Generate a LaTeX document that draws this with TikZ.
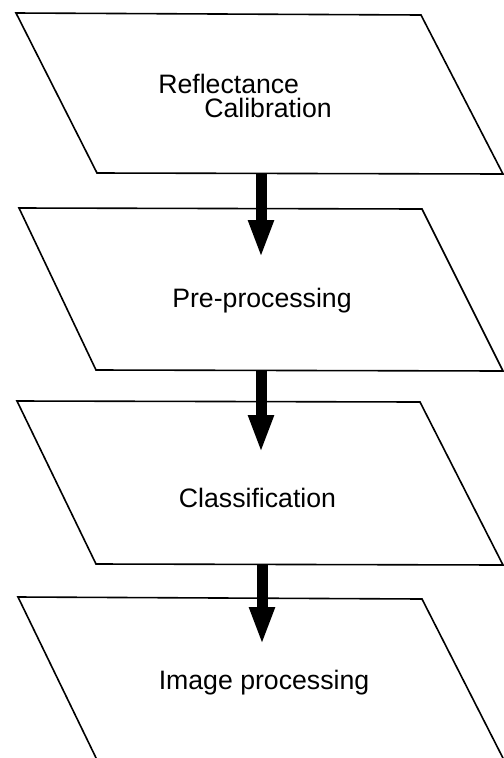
\documentclass[tikz,border=0pt]{standalone}
\usepackage{fontspec}
\setmainfont{Liberation Sans}
\usetikzlibrary{arrows.meta}
\tikzset{
  boxline/.style={draw=black, line width=1.2pt, line join=miter},
  label/.style={inner sep=0pt, font=\fontsize{20}{18}\selectfont},
  bigarrow/.style={draw=black, line width=8.25pt, -{Triangle[width=17.5pt,length=28.5pt]}}
}
\begin{document}
\begin{tikzpicture}[x=0.75pt,y=-0.75pt]
\useasboundingbox (0,0) rectangle (504,758);
\clip (0,0) rectangle (504,758);
% boxes
\draw[boxline] (16,13) -- (421,15) -- (503,174) -- (97,173) -- cycle;
\draw[boxline] (19,208) -- (422,209) -- (503,371) -- (96,370) -- cycle;
\draw[boxline] (17,401) -- (420,402) -- (503,565) -- (96,564) -- cycle;
\draw[boxline] (18,597) -- (422,599) -- (506,764) -- (99,764) -- cycle;
% texts
\node[label, anchor=base west, align=left] (t1) at (158,117) {Reflectance\\\hspace*{34.5pt}Calibration};
\node[label, anchor=base] (t2) at (262,307) {Pre-processing};
\node[label, anchor=base] (t3) at (257.5,507) {Classification};
\node[label, anchor=base] (t4) at (264,689) {Image processing};
% arrow ends
\coordinate (a1s) at (261,173.5);
\coordinate (a1e) at (261,258);
\coordinate (a2s) at (261,370.5);
\coordinate (a2e) at (261,453);
\coordinate (a3s) at (262,564.5);
\coordinate (a3e) at (262,645);
\draw[bigarrow] (a1s) -- (a1e);
\draw[bigarrow] (a2s) -- (a2e);
\draw[bigarrow] (a3s) -- (a3e);
\end{tikzpicture}
\end{document}
